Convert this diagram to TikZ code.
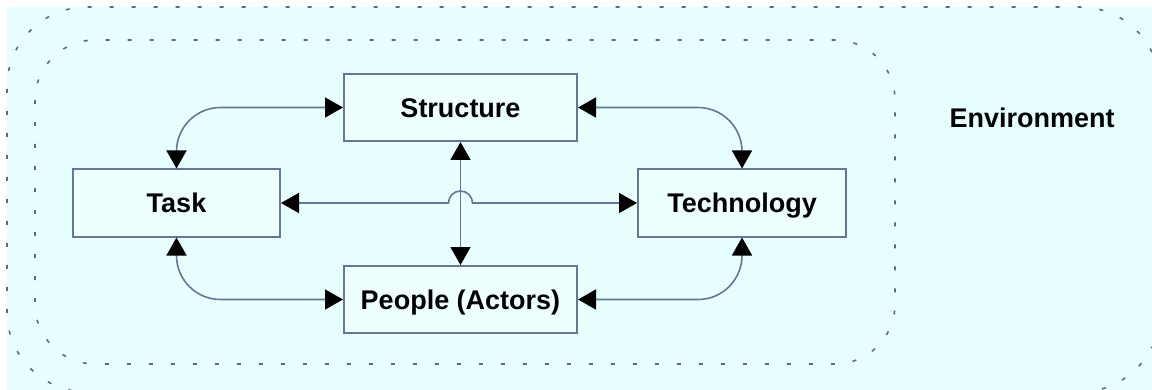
\documentclass[tikz,border=0pt]{standalone}
\usepackage{fontspec}
\setmainfont{Liberation Sans}
\usetikzlibrary{arrows.meta,positioning}

\definecolor{envfill}{RGB}{232,255,255}
\definecolor{boxfill}{RGB}{238,255,255}
\definecolor{linegray}{RGB}{104,118,148}
\definecolor{dotgray}{RGB}{92,106,136}

\tikzset{
  box/.style={draw=linegray,fill=boxfill,line width=1pt,inner sep=0pt,
    minimum height=33.5pt,text height=9.7pt,text depth=0pt,
    font=\bfseries\fontsize{13.5}{16}\selectfont},
  link/.style={<->,draw=linegray,line width=0.8pt,rounded corners=22pt},
  zone/.style={draw=dotgray,line width=0.8pt,dash pattern=on 2pt off 9pt}
}

\begin{document}
\begin{tikzpicture}[x=0.5pt,y=-0.5pt,>={Triangle[length=9pt,width=10pt,color=black]}]
    \useasboundingbox (0,0) rectangle (1152,390);
    \clip (0,0) rectangle (1152,390);
    \fill[envfill] (7,7) rectangle (1152,390);

    % environment border (runs off the right side) and socio-technical system border
    \draw[zone] (1152,52.1) arc[start angle=25.9,end angle=90,radius=40pt]
        -- (87,7) arc[start angle=90,end angle=180,radius=40pt]
        -- (7,312) arc[start angle=180,end angle=270,radius=40pt]
        -- (1080,392) arc[start angle=270,end angle=334.1,radius=40pt];
    \draw[zone,rounded corners=30pt] (35,40) rectangle (895,364);

    \node[box,minimum width=116.5pt] (structure) at (460.5,107.5) {Structure};
    \node[box,minimum width=116.5pt] (people) [below=61.5pt of structure] {People (Actors)};
    \node[box,minimum width=103.5pt] (task) at (176.5,203) {Task};
    \node[box,minimum width=104pt] (technology) at (742,203) {Technology};

    \node[font=\bfseries\fontsize{13.5}{16}\selectfont] (env) at (1032,118) {Environment};

    \coordinate (hop) at (structure.south |- task.east);

    \draw[link] (structure.west) -| (task.north);
    \draw[link] (structure.east) -| (technology.north);
    \draw[link] (people.west) -| (task.south);
    \draw[link] (people.east) -| (technology.south);
    \draw[link] (structure) -- (people);
    \draw[link,sharp corners] (task.east) -- ([xshift=-6pt]hop)
        arc[start angle=180,end angle=0,radius=6pt] -- (technology.west);
\end{tikzpicture}
\end{document}
